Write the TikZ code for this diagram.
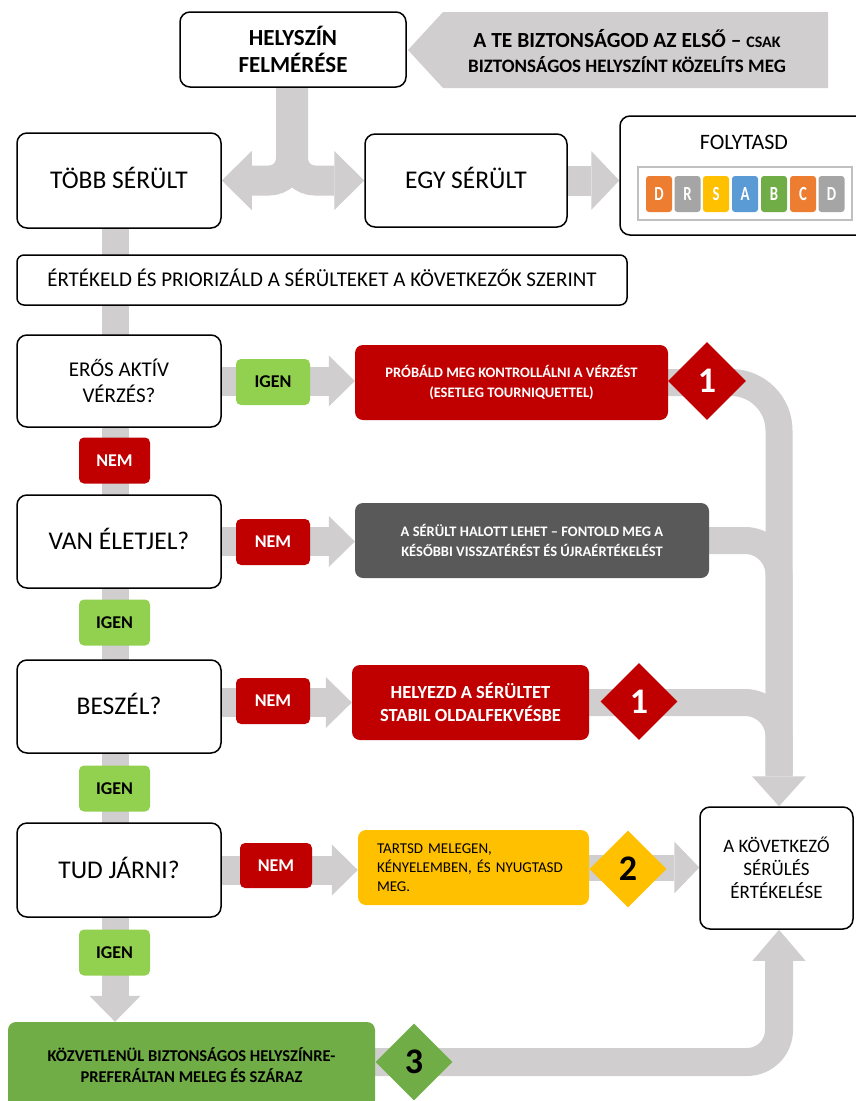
\documentclass[tikz,border=0pt]{standalone}
\usepackage{fontspec}
\setmainfont{Carlito}
\newfontfamily\narrowbold{Carlito}[FakeStretch=0.74,UprightFont=*-Bold]
\usetikzlibrary{arrows.meta,shapes.geometric,backgrounds}
\definecolor{agray}{HTML}{D0CECE}
\definecolor{cred}{HTML}{C00000}
\definecolor{clgreen}{HTML}{92D050}
\definecolor{cdark}{HTML}{595959}
\definecolor{cyellow}{HTML}{FFC000}
\definecolor{cgreen}{HTML}{70AD47}
\definecolor{corange}{HTML}{ED7D31}
\definecolor{ctgray}{HTML}{A5A5A5}
\definecolor{cblue}{HTML}{5B9BD5}
\newcommand{\fsz}[2]{\fontsize{#1}{#2}\selectfont}
\begin{document}
\begin{tikzpicture}[x=1pt,y=-1pt,
  wbox/.style={draw=black,line width=1.5pt,rounded corners=10pt,fill=white,align=center,inner sep=0pt,text=black},
  cbox/.style={rounded corners=8pt,align=center,inner sep=0pt},
  lab/.style={rounded corners=5pt,minimum width=74pt,minimum height=46pt,inner sep=0pt,font=\fsz{18}{18}\bfseries},
  dia/.style={diamond,aspect=1,minimum width=78pt,minimum height=78pt,inner sep=0pt,font=\fsz{36}{36}\bfseries},
  band/.style={draw=agray,line width=27pt},
  arr/.style 2 args={-{Triangle[length=#1pt,width=#2pt,line width=0pt]}},
  tile/.style={rounded corners=3pt,minimum width=26pt,minimum height=36pt,inner sep=0pt,text=white,font=\narrowbold\fsz{20}{20}}]
\useasboundingbox (0,0) rectangle (856,1101);
\clip (0,0) rectangle (856,1101);
\coordinate (barx) at (115,0);
\coordinate (rbar) at (779,0);
\coordinate (merge) at (779,775);

% top warning arrow
\fill[agray] (408,50) -- (443,12) -- (828,12) -- (828,88) -- (443,88) -- cycle;
\node[font=\fsz{19}{25}\bfseries,align=center] (warn) at (627,51)
  {{\fsz{21.5}{25}A TE BIZTONSÁGOD AZ ELSŐ – }{\fsz{16}{25}CSAK}\\BIZTONSÁGOS HELYSZÍNT KÖZELÍTS MEG};

\node[wbox,minimum width=226pt,minimum height=75pt,font=\fsz{23}{27}\bfseries] (helyszin) at (293,49.5) {HELYSZÍN\\FELMÉRÉSE};
\node[wbox,minimum width=204pt,minimum height=95pt,font=\fsz{25.5}{30},text height=16.4pt,text depth=0pt] (tobb) at (119,180.5) {TÖBB SÉRÜLT};
\node[wbox,minimum width=202pt,minimum height=93pt,font=\fsz{25.5}{30},text height=16.4pt,text depth=0pt] (egy) at (466,180.5) {EGY SÉRÜLT};
\node[wbox,minimum width=248pt,minimum height=119pt] (folyt) at (744,175.5) {};
\node[font=\fsz{22}{22}] (folyttxt) at (744,142) {FOLYTASD};
\node[draw=ctgray!70,line width=1.2pt,fill=white,minimum width=214pt,minimum height=53pt,inner sep=0pt] (strip) at (745,193.5) {};
\node[tile,fill=corange] (t1) at (659,194) {D};
\node[tile,fill=ctgray] (t2) at (687.5,194) {R};
\node[tile,fill=cyellow] (t3) at (716,194) {S};
\node[tile,fill=cblue] (t4) at (745,194) {A};
\node[tile,fill=cgreen] (t5) at (774,194) {B};
\node[tile,fill=corange] (t6) at (803,194) {C};
\node[tile,fill=ctgray] (t7) at (831.5,194) {D};

\node[wbox,rounded corners=7pt,minimum width=610pt,minimum height=50pt,font=\fsz{21}{21},text height=13.5pt,text depth=0pt] (ertekeld) at (322,280) {ÉRTÉKELD ÉS PRIORIZÁLD A SÉRÜLTEKET A KÖVETKEZŐK SZERINT};

\node[wbox,minimum width=204pt,minimum height=92pt,font=\fsz{21}{26}] (eros) at (119,381) {ERŐS AKTÍV\\VÉRZÉS?};
\node[wbox,minimum width=204pt,minimum height=93pt,font=\fsz{25.5}{30},text height=16.4pt,text depth=0pt] (van) at (119,541.5) {VAN ÉLETJEL?};
\node[wbox,minimum width=204pt,minimum height=93pt,font=\fsz{25.5}{30},text height=16.4pt,text depth=0pt] (besz) at (119,706.5) {BESZÉL?};
\node[wbox,minimum width=204pt,minimum height=94pt,font=\fsz{25.5}{30},text height=16.4pt,text depth=0pt] (tud) at (119,870) {TUD JÁRNI?};

\node[cbox,fill=cred,text=white,minimum width=313pt,minimum height=75pt,font=\fsz{14.5}{20}\bfseries] (probald) at (511.5,382.5) {PRÓBÁLD MEG KONTROLLÁLNI A VÉRZÉST\\(ESETLEG TOURNIQUETTEL)};
\node[dia,fill=cred,text=white] (d1) at (707,381) {1};
\node[cbox,fill=cdark,text=white,minimum width=354pt,minimum height=75pt,font=\fsz{14.5}{19.5}\bfseries] (dark) at (532,540.5) {A SÉRÜLT HALOTT LEHET – FONTOLD MEG A\\KÉSŐBBI VISSZATÉRÉST ÉS ÚJRAÉRTÉKELÉST};
\node[cbox,fill=cred,text=white,minimum width=237pt,minimum height=75pt,font=\fsz{18.5}{23.5}\bfseries] (helyezd) at (470.5,702.5) {HELYEZD A SÉRÜLTET\\STABIL OLDALFEKVÉSBE};
\node[dia,fill=cred,text=white,minimum width=77pt,minimum height=77pt] (d1b) at (639,701.5) {1};
\node[cbox,fill=cyellow,text=black,minimum width=231pt,minimum height=75pt,text width=193pt,inner xsep=19pt,align=left,font=\fsz{15}{19}] (yellow) at (473.5,867.5) {TARTSD MELEGEN,\\KÉNYELEMBEN, ÉS NYUGTASD\\MEG.};
\node[dia,fill=cyellow,text=black,minimum width=77pt,minimum height=77pt] (d2) at (628,869) {2};
\node[wbox,minimum width=153pt,minimum height=122pt,font=\fsz{19}{23}] (kov) at (776.5,868) {A KÖVETKEZŐ\\SÉRÜLÉS\\ÉRTÉKELÉSE};
\node[cbox,fill=cgreen,text=black,minimum width=367pt,minimum height=86pt,font=\fsz{16.5}{21}\bfseries] (kozv) at (191.5,1065) {KÖZVETLENÜL BIZTONSÁGOS HELYSZÍNRE-\\PREFERÁLTAN MELEG ÉS SZÁRAZ};
\node[dia,fill=cgreen,text=black,minimum width=77pt,minimum height=77pt] (d3) at (414,1062) {3};

\node[lab,fill=clgreen] (l1) at (273,382) {IGEN};
\node[lab,fill=cred,text=white] (l2) at (273,542) {NEM};
\node[lab,fill=cred,text=white] (l3) at (273,701) {NEM};
\node[lab,fill=cred,text=white,minimum width=72pt,minimum height=45pt] (l4) at (276,865.5) {NEM};
\node[lab,fill=cred,text=white,minimum width=71pt] (c1) at (114.5,460.5) {NEM};
\node[lab,fill=clgreen,minimum width=71pt] (c2) at (114.5,622.5) {IGEN};
\node[lab,fill=clgreen,minimum width=71pt] (c3) at (114.5,788.5) {IGEN};
\node[lab,fill=clgreen,minimum width=71pt] (c4) at (114.5,952.5) {IGEN};

\begin{pgfonlayer}{background}
  \draw[band,line width=30pt,rounded corners=22pt,arr={30}{59}] ([xshift=-2pt]helyszin.south) |- (tobb.east);
  \draw[band,line width=30pt,rounded corners=22pt,arr={30}{59}] (helyszin.south) |- (egy.west);
  \draw[band,line width=30pt,arr={28}{59}] (egy.east) -- (egy.east -| folyt.west);
  \draw[band,line width=27pt,arr={26}{51}] (tobb.south -| barx) -- (kozv.north -| barx);
  \draw[band,line width=29pt,arr={26}{51}] (eros.east) -- (eros.east -| probald.west);
  \draw[band,line width=29pt,arr={26}{51}] (van.east) -- (van.east -| dark.west);
  \draw[band,line width=29pt,arr={26}{51}] (besz.east |- helyezd.west) -- (helyezd.west);
  \draw[band,line width=29pt,arr={26}{51}] (tud.east) -- (tud.east -| yellow.west);
  \draw[band,rounded corners=48pt,arr={30}{54}] (probald.east) -| (rbar |- kov.north);
  \draw[band,rounded corners=34pt] (dark.east) -| (merge);
  \draw[band,rounded corners=34pt] (helyezd.east) -| (merge);
  \draw[band,line width=26pt,arr={25}{52}] (yellow.east) -- (yellow.east -| kov.west);
  \draw[band,line width=28pt,rounded corners=32pt,arr={31}{53}] (kozv.east |- d3.center) -| (rbar |- kov.south);
\end{pgfonlayer}
\end{tikzpicture}
\end{document}
